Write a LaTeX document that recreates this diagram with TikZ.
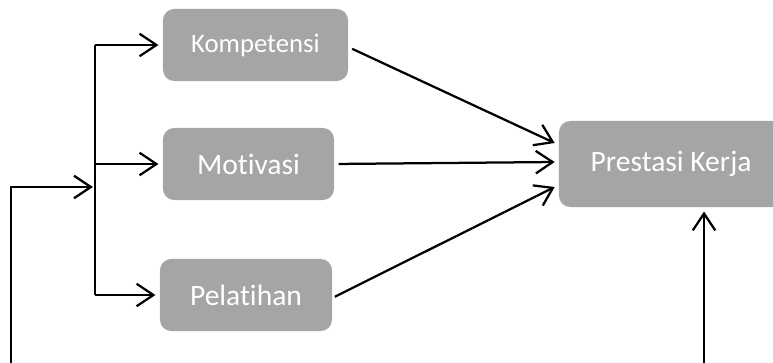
\documentclass[tikz,border=0pt]{standalone}
\usepackage{fontspec}
\setmainfont[Ligatures=NoCommon]{Carlito}
\usetikzlibrary{positioning,arrows.meta,calc}
\definecolor{boxgray}{HTML}{A5A5A5}

\begin{document}
\begin{tikzpicture}[x=0.025cm,y=-0.025cm,
    varbox/.style={rounded corners=8pt,draw=none,fill=boxgray,text=white,
      minimum height=1.8cm,inner sep=0pt,font=\fontsize{21}{25}\selectfont},
    arr/.style={-{Straight Barb[length=12pt,width=16pt,line width=1.6pt]},line width=1.6pt}]
    \useasboundingbox (0,0) rectangle (773,362);
    \clip (0,0) rectangle (773,362);
    \node[varbox,minimum width=4.625cm,font=\fontsize{19}{23}\selectfont] (komp) at (255.5,45) {Kompetensi};
    \node[varbox,minimum width=4.275cm] (motiv) at (248.5,164) {Motivasi};
    \node[varbox,minimum width=4.3cm] (pelat) at (246,295) {Pelatihan};
    \node[varbox,minimum width=5.6cm,minimum height=2.15cm] (prest) at (671,164) {Prestasi Kerja};
    \coordinate (split) at (95,187);
    \coordinate (srcL) at (11,370);
    \coordinate (srcR) at (704,370);
    % feed into the three variables
    \draw[arr] (srcL) |- ([xshift=-1.5pt]split);
    \draw[line width=1.6pt] (komp.west -| split) -- (pelat.west -| split);
    \draw[arr,shorten >=3pt] (komp.west -| split) -- (komp.west);
    \draw[arr,shorten >=3pt] (motiv.west -| split) -- (motiv.west);
    \draw[arr,shorten >=3pt] (pelat.west -| split) -- (pelat.west);
    % into Prestasi Kerja
    \draw[arr,shorten <=3pt] ($(komp.east)+(0,2)$) -- ($(prest.west)+(-4,-21)$);
    \draw[arr,shorten <=3pt] (motiv.east) -- ($(prest.west)+(-4,-2)$);
    \draw[arr,shorten <=2pt] ($(pelat.east)+(0,3)$) -- ($(prest.west)+(-4,23)$);
    \draw[arr,shorten >=3pt] (srcR) -- (prest.south -| srcR);
\end{tikzpicture}
\end{document}
